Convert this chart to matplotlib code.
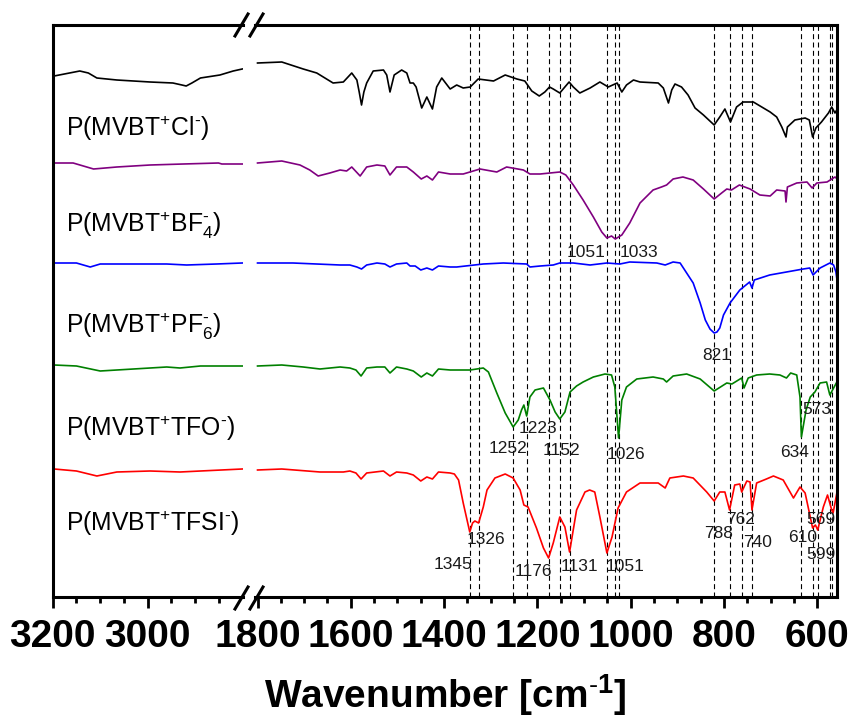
import numpy as np
import matplotlib
matplotlib.use('Agg')
import matplotlib.pyplot as plt
from matplotlib.lines import Line2D
from matplotlib.ticker import FixedLocator, MultipleLocator

plt.rcParams['font.family'] = ['Liberation Sans', 'DejaVu Sans']
plt.rcParams['mathtext.fontset'] = 'custom'
plt.rcParams['mathtext.rm'] = 'Liberation Sans'
plt.rcParams['mathtext.it'] = 'Liberation Sans:italic'
plt.rcParams['mathtext.bf'] = 'Liberation Sans:bold'

# spektrum verileri (dalga sayisi, ust uste bindirilmis gecirgenlik, a.u.)
cl_wn = [3197, 3143, 3125, 3107, 3065, 2995, 2947, 2928, 2919, 2907, 2889, 2848, 2820, 2801,
         1800, 1748, 1702, 1673, 1638, 1616, 1598, 1587, 1582, 1577, 1572, 1566, 1552, 1530, 1523,
         1516, 1507, 1491, 1480, 1473, 1466, 1460, 1448, 1437, 1425, 1416, 1405, 1387, 1373, 1359,
         1344, 1327, 1294, 1269, 1244, 1227, 1212, 1196, 1184, 1174, 1166, 1152, 1132, 1123, 1109,
         1087, 1066, 1048, 1029, 1019, 1009, 994, 980, 941, 930, 919, 912, 905, 891, 877, 862,
         844, 821, 809, 798, 786, 773, 759, 737, 719, 701, 687, 676, 667, 664, 648, 626, 617,
         610, 603, 591, 576, 569, 562, 557]
cl_t = [521, 526, 524, 519, 517, 515, 514, 512, 511, 514, 519, 522, 526, 528,
        534, 535, 528, 524, 514, 515, 524, 517, 505, 492, 505, 514, 526, 527, 522,
        505, 522, 527, 524, 514, 514, 510, 489, 500, 488, 510, 519, 508, 512, 509,
        510, 518, 516, 522, 518, 516, 506, 501, 505, 510, 508, 504, 515, 510, 504,
        509, 515, 510, 514, 505, 512, 517, 515, 514, 509, 494, 507, 513, 510, 502, 489,
        482, 472, 480, 488, 475, 490, 495, 495, 490, 485, 480, 470, 460, 470, 477, 479, 477,
        460, 469, 475, 484, 490, 484, 488]

bf4_wn = [3197, 3157, 3114, 3065, 2995, 2925, 2851, 2844, 2801,
          1800, 1748, 1709, 1688, 1670, 1645, 1623, 1609, 1598, 1580, 1566, 1544, 1527, 1516,
          1502, 1480, 1466, 1449, 1437, 1425, 1412, 1387, 1359, 1323, 1287, 1266, 1230, 1216,
          1194, 1152, 1139, 1123, 1102, 1080, 1062, 1051, 1041, 1033, 1019, 1002, 980, 952, 934,
          923, 909, 888, 866, 844, 821, 805, 794, 784, 767, 744, 723, 701, 687, 669, 667, 664,
          644, 622, 611, 601, 579, 562, 557]
bf4_t = [434, 434, 428, 430, 432, 433, 434, 433, 433,
         434, 436, 432, 427, 421, 424, 427, 426, 430, 421, 430, 432, 431, 422,
         430, 430, 425, 418, 421, 417, 425, 423, 423, 428, 425, 430, 427, 423,
         423, 425, 422, 412, 397, 380, 365, 359, 361, 358, 362, 374, 394, 407, 410,
         412, 418, 420, 417, 408, 398, 404, 408, 407, 412, 408, 402, 401, 407, 406, 395, 410,
         414, 415, 409, 414, 415, 420, 418]

pf6_wn = [3197, 3150, 3121, 3100, 3030, 2960, 2918, 2855, 2801,
          1800, 1724, 1623, 1602, 1587, 1577, 1566, 1544, 1527, 1516, 1502, 1480, 1473, 1462,
          1450, 1437, 1425, 1412, 1387, 1373, 1316, 1273, 1223, 1216, 1194, 1166, 1152, 1123,
          1087, 1051, 1023, 1002, 944, 926, 909, 894, 880, 866, 851, 840, 830, 821, 815, 809, 801,
          787, 766, 745, 740, 735, 702, 666, 630, 616, 609, 594, 573, 565, 560, 557]
pf6_t = [334, 334, 330, 333, 333, 333, 332, 333, 334,
         334, 334, 332, 332, 330, 328, 332, 334, 333, 330, 333, 334, 331, 331,
         327, 329, 327, 331, 330, 330, 333, 334, 333, 330, 331, 332, 334, 334,
         332, 334, 333, 335, 334, 332, 335, 334, 324, 314, 294, 277, 268, 264, 265, 269, 282,
         294, 307, 315, 309, 317, 322, 325, 328, 329, 322, 329, 334, 332, 325, 315]

tfo_wn = [3197, 3150, 3100, 3030, 2960, 2932, 2889, 2801,
          1800, 1748, 1702, 1666, 1623, 1602, 1589, 1578, 1566, 1544, 1527, 1516, 1502, 1480,
          1466, 1449, 1437, 1425, 1412, 1387, 1373, 1344, 1316, 1305, 1287, 1269, 1258, 1252, 1241,
          1234, 1229, 1223, 1216, 1205, 1187, 1173, 1162, 1152, 1141, 1130, 1116, 1102, 1080,
          1055, 1041, 1034, 1026, 1019, 1009, 987, 952, 930, 923, 909, 880, 851, 821, 794, 783,
          762, 757, 748, 730, 702, 680, 666, 657, 644, 637, 634, 624, 615, 605, 594, 580, 573,
          558]
tfo_t = [232, 231, 226, 228, 230, 229, 231, 231,
         231, 232, 230, 228, 230, 229, 227, 221, 229, 230, 230, 224, 230, 228,
         226, 220, 224, 221, 228, 227, 227, 227, 229, 225, 204, 184, 175, 170, 177,
         187, 192, 181, 200, 207, 209, 197, 185, 178, 185, 205, 211, 215, 220,
         223, 222, 210, 159, 197, 210, 218, 220, 218, 215, 221, 223, 218, 206, 214, 213,
         219, 209, 219, 222, 223, 222, 219, 224, 222, 200, 160, 187, 200, 205, 214, 215, 202,
         215]

tfsi_wn = [3197, 3150, 3107, 3065, 2995, 2932, 2889, 2801,
           1800, 1748, 1666, 1616, 1602, 1589, 1578, 1566, 1530, 1516, 1502, 1480, 1466, 1450,
           1437, 1425, 1412, 1387, 1378, 1369, 1359, 1345, 1339, 1334, 1326, 1316, 1308, 1291,
           1269, 1252, 1237, 1229, 1220, 1202, 1187, 1176, 1166, 1152, 1141, 1131, 1116, 1098,
           1088, 1077, 1066, 1051, 1040, 1027, 1009, 980, 941, 926, 916, 887, 866, 837, 821, 809,
           798, 788, 777, 766, 762, 751, 744, 740, 730, 709, 694, 673, 651, 637, 626, 615, 610,
           604, 599, 587, 578, 569, 566, 558]
tfsi_t = [128, 126, 121, 125, 126, 125, 126, 128,
          127, 128, 125, 125, 126, 124, 118, 124, 126, 121, 125, 124, 122, 116,
          120, 118, 125, 124, 123, 117, 94, 65, 74, 76, 74, 90, 107, 119,
          123, 119, 107, 92, 90, 69, 49, 39, 54, 80, 70, 45, 87, 105,
          107, 105, 80, 44, 60, 89, 105, 114, 114, 109, 119, 121, 119, 105, 96, 105,
          105, 87, 112, 113, 105, 116, 115, 87, 114, 118, 121, 117, 99, 110, 104, 80, 69,
          72, 67, 90, 102, 87, 84, 104]

names = [r'P(MVBT$^{+}$Cl$^{\text{-}}$)', r'P(MVBT$^{+}$BF$_{4}^{\text{-}}$)',
         r'P(MVBT$^{+}$PF$_{6}^{\text{-}}$)', r'P(MVBT$^{+}$TFO$^{\text{-}}$)',
         r'P(MVBT$^{+}$TFSI$^{\text{-}}$)']
colors = ['black', 'purple', 'blue', 'green', 'red']
name_y = [461, 365, 264, 161, 66]

peak_lines = [1345, 1326, 1252, 1223, 1176, 1152, 1131, 1051, 1033, 1026,
              821, 788, 762, 740, 634, 610, 599, 573, 569]

# etiket: metin, x (cm-1), y (a.u.)
peak_text = ['1051', '1033', '821', '1252', '1223', '1152', '1026', '634', '573',
             '1345', '1326', '1176', '1131', '1051', '788', '762', '740', '610', '569', '599']
peak_x = [1096, 982, 816, 1264, 1199, 1149, 1011, 649, 600,
          1381, 1310, 1209, 1109, 1012, 811, 765, 729, 632, 592, 592]
peak_y = [340, 340, 237, 144, 164, 142, 138, 140, 183,
          28, 53, 21, 26, 26, 59, 73, 50, 55, 73, 38]

W, H = 853, 720
fig = plt.figure(figsize=(W / 100, H / 100), dpi=100)
bottom = (H - 597) / H
height = (597 - 25) / H
ax_l = fig.add_axes([52.7 / W, bottom, (243 - 52.7) / W, height])
ax_r = fig.add_axes([255 / W, bottom, (837.5 - 255) / W, height])

spectra = [(cl_wn, cl_t), (bf4_wn, bf4_t), (pf6_wn, pf6_t), (tfo_wn, tfo_t), (tfsi_wn, tfsi_t)]
for (wn, t), c in zip(spectra, colors):
    wn = np.array(wn)
    t = np.array(t)
    hi = wn > 2000
    ax_l.plot(wn[hi], t[hi], color=c, lw=1.2, solid_joinstyle='round')
    ax_r.plot(wn[~hi], t[~hi], color=c, lw=1.2, solid_joinstyle='round')

for p in peak_lines:
    ax_r.axvline(p, color='k', lw=0.8, dashes=(4.5, 3), zorder=0.5)

for s, x, y in zip(peak_text, peak_x, peak_y):
    ax_r.text(x, y, s, ha='center', va='baseline', fontsize=12.5, color='#1a1a1a')

for s, y in zip(names, name_y):
    ax_l.text(3173, y, s, ha='left', va='baseline', fontsize=17.8)

ax_l.set_xlim(3200, 2799.4)
ax_r.set_xlim(1805.4, 556.6)
ax_l.set_xticks([3200, 3000])
ax_l.xaxis.set_minor_locator(FixedLocator([3150, 3100, 3050, 2950, 2900, 2850]))
ax_r.set_xticks(list(range(1800, 599, -200)))
ax_r.xaxis.set_minor_locator(MultipleLocator(50))

for ax in (ax_l, ax_r):
    ax.set_ylim(0, 572)
    ax.set_yticks([])
    ax.tick_params(axis='x', which='major', direction='out', length=8, width=2,
                   labelsize=28, pad=8)
    ax.tick_params(axis='x', which='minor', direction='out', length=4.5, width=2)
    for lbl in ax.get_xticklabels():
        lbl.set_fontweight('bold')
    for sp in ax.spines.values():
        sp.set_linewidth(2.2)
ax_l.spines['right'].set_visible(False)
ax_r.spines['left'].set_visible(False)

# kirik eksen isaretleri
for xc in (241.5, 256.5):
    for yc in (25, 598):
        fig.add_artist(Line2D([(xc - 6.5) / W, (xc + 6.5) / W],
                              [1 - (yc + 11) / H, 1 - (yc - 11) / H],
                              transform=fig.transFigure, color='k', lw=2.2))

fig.text(445 / W, (H - 708) / H, r'Wavenumber [cm$^{\mathbf{\text{-}1}}$]',
         ha='center', va='baseline', fontsize=28, fontweight='bold')

fig.savefig('out.png', dpi=100)
